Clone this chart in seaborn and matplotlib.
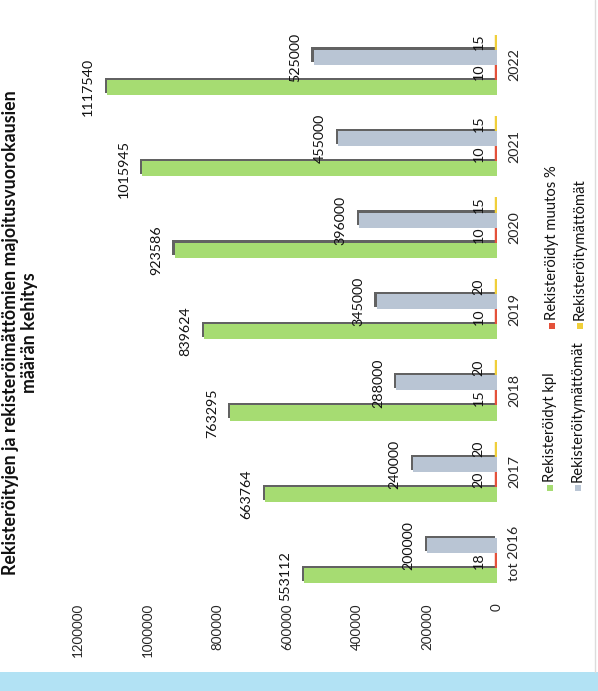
import numpy as np
import pandas as pd
import seaborn as sns
import matplotlib
matplotlib.use("Agg")
import matplotlib.pyplot as plt
from matplotlib.patches import Rectangle
from matplotlib.lines import Line2D
import matplotlib.patheffects as pe

# ---------------- data ----------------
categories = ["tot 2016", "2017", "2018", "2019", "2020", "2021", "2022"]
rekisteroidyt_kpl = [553112, 663764, 763295, 839624, 923586, 1015945, 1117540]
rekisteroidyt_muutos = [18, 20, 15, 10, 10, 10, 10]
rekisteroitymattomat = [200000, 240000, 288000, 345000, 396000, 455000, 525000]
rekisteroitymattomat_muutos = [np.nan, 20, 20, 20, 15, 15, 15]

series_keys = ["kpl", "muutos", "ei", "ei_muutos"]
series_labels = ["Rekisteröidyt kpl", "Rekisteröidyt muutos %",
                 "Rekisteröitymättömät", "Rekisteröitymättömät"]
series_colors = ["#a6dc72", "#e4513a", "#b9c5d4", "#f0cf3a"]
value_ticks = [0, 200000, 400000, 600000, 800000, 1000000, 1200000]
title = "Rekisteröityjen ja rekisteröimättömien majoitusvuorokausien\nmäärän kehitys"

series_values = [rekisteroidyt_kpl, rekisteroidyt_muutos,
                 rekisteroitymattomat, rekisteroitymattomat_muutos]
rows = []
for key, vals in zip(series_keys, series_values):
    for cat, v in zip(categories, vals):
        if not (isinstance(v, float) and np.isnan(v)):
            rows.append({"category": cat, "series": key, "value": v})
df = pd.DataFrame(rows)

# ---------------- style ----------------
sns.set_style("white")
plt.rcParams["font.family"] = ["Lato", "DejaVu Sans"]

W, H = 598, 691
fig = plt.figure(figsize=(W / 100, H / 100), dpi=100)
fig.patch.set_facecolor("white")
ax = fig.add_axes([78 / W, 1 - 594 / H, (497 - 78) / W, (594 - 24) / H])

sns.barplot(data=df, x="value", y="category", hue="series",
            order=categories, hue_order=series_keys,
            palette=dict(zip(series_keys, series_colors)),
            orient="h", width=0.74, dodge=True, saturation=1,
            errorbar=None, legend=False, ax=ax)

ax.set_ylim(-0.5, len(categories) - 0.5)
ax.set_xlim(max(value_ticks), 0)

for i, cont in enumerate(ax.containers):
    key = series_keys[i]
    for p in cont.patches:
        if key in ("kpl", "ei"):
            p.set_linewidth(0)
            p.set_edgecolor("none")
            p.set_path_effects([pe.SimplePatchShadow(offset=(-1.6, 1.6),
                                                     shadow_rgbFace="#5a5a5a",
                                                     alpha=0.95),
                                pe.Normal()])
        else:
            p.set_edgecolor(p.get_facecolor())
            p.set_linewidth(3.2)
    ax.bar_label(cont, labels=[f"{v:.0f}" for v in cont.datavalues],
                 padding=9, rotation=90, fontsize=10.3, color="#111111")

ax.set_xticks(value_ticks)
ax.set_xticklabels([str(v) for v in value_ticks], rotation=90, fontsize=9.6)
ax.tick_params(axis="x", length=0, pad=6.5)
ax.yaxis.tick_right()
ax.set_yticks(range(len(categories)))
ax.set_yticklabels(categories, rotation=90, va="center", fontsize=10.3)
ax.tick_params(axis="y", length=0, pad=8)
ax.set_xlabel("")
ax.set_ylabel("")
for s in ax.spines.values():
    s.set_visible(False)
ax.grid(False)

# ---------------- title (rotated) ----------------
fig.text(20 / W, 1 - 333 / H, title, rotation=90, ha="center", va="center",
         multialignment="center", fontsize=12.8, fontweight="bold",
         linespacing=1.1, color="#111111")

# ---------------- legend (rotated, manual) ----------------
legend_pos = [(550, 488), (552, 326), (578, 488), (580, 326)]  # column-major layout
for (lx, ly), lab, col in zip(legend_pos, series_labels, series_colors):
    fig.add_artist(Rectangle(((lx - 3) / W, 1 - (ly + 3) / H), 6 / W, 6 / H,
                             transform=fig.transFigure, facecolor=col,
                             edgecolor="none"))
    fig.text(lx / W, 1 - (ly - 6) / H, lab, rotation=90, ha="center",
             va="bottom", fontsize=10.6, color="#111111")

# scan frame details
fig.add_artist(Line2D([595 / W, 595 / W], [19 / H, 1], transform=fig.transFigure,
                      color="#dcdcdc", linewidth=1))
fig.add_artist(Rectangle((0, 0), 1, 19 / H, transform=fig.transFigure,
                         facecolor="#b2e2f4", edgecolor="none"))

fig.savefig("out.png", dpi=100)
